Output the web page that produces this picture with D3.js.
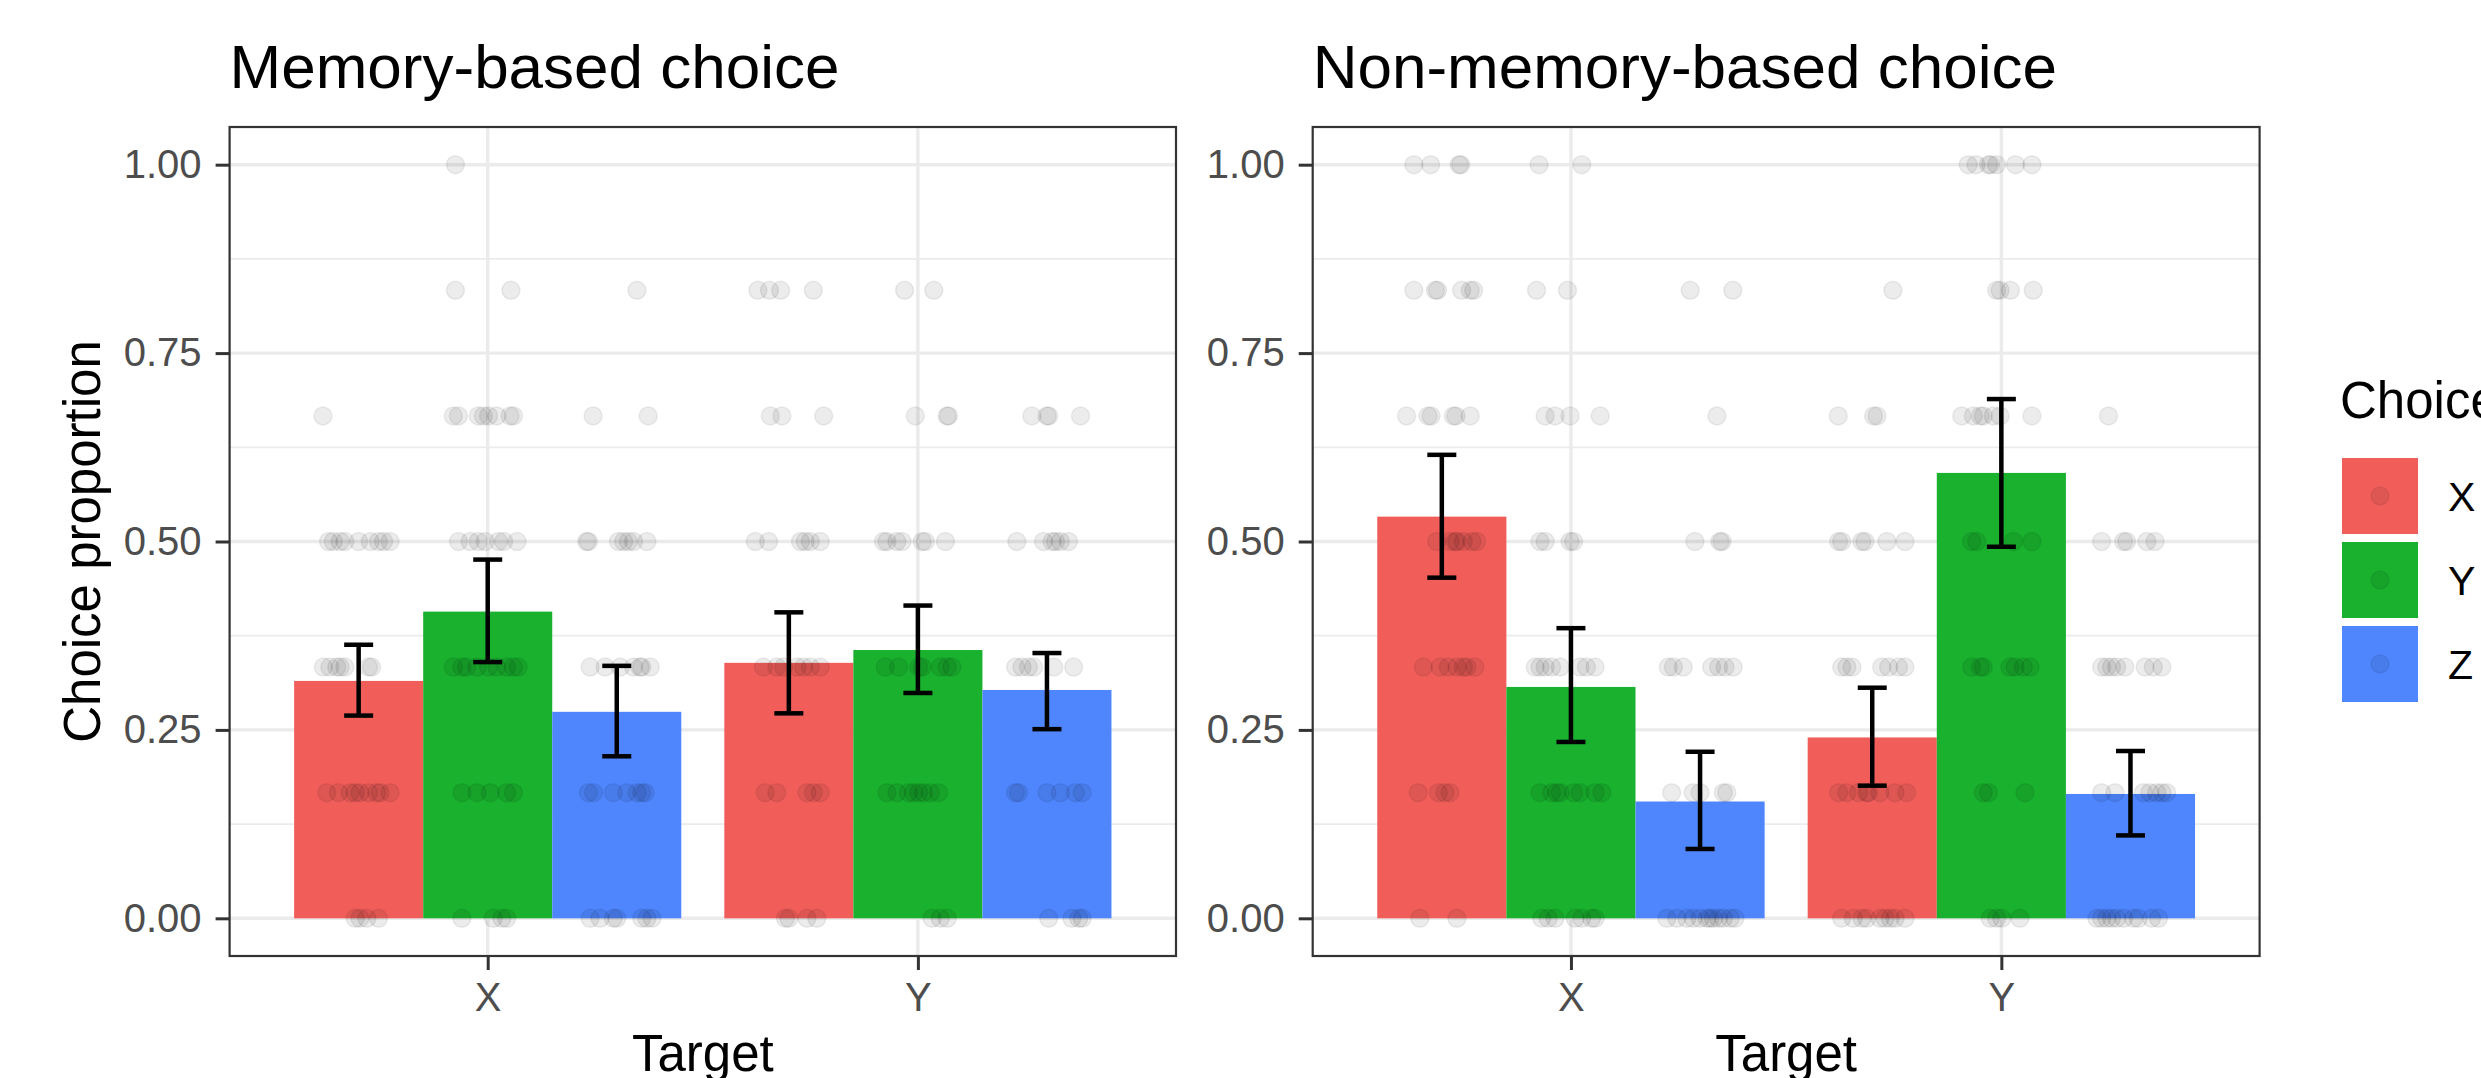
<!DOCTYPE html>
<meta charset="utf-8">
<style>
  body { margin: 0; background: #fff; }
  text { font-family: "Liberation Sans", Arial, sans-serif; }
</style>
<svg width="2481" height="1078"></svg>
<script src="https://d3js.org/d3.v7.min.js"></script>
<script>

// ---- data ----
var targets = ["X", "Y"];
var choices = ["X", "Y", "Z"];
var colors = ["#F15E5A", "#19B12E", "#4F86FE"];

// rows = target, cols = choice
var memMean = [[0.315, 0.407, 0.274], [0.339, 0.356, 0.303]];
var memLow  = [[0.269, 0.340, 0.215], [0.272, 0.299, 0.251]];
var memHigh = [[0.363, 0.476, 0.335], [0.406, 0.415, 0.352]];
var nonMean = [[0.533, 0.307, 0.155], [0.240, 0.591, 0.165]];
var nonLow  = [[0.452, 0.234, 0.092], [0.176, 0.493, 0.110]];
var nonHigh = [[0.615, 0.385, 0.221], [0.306, 0.689, 0.222]];

// participant points: [sixths chosen, horizontal jitter in category units]
var memXX = [[4,-0.083],[3,-0.070],[3,-0.059],[3,-0.043],[3,-0.032],[3,0],[3,0.027],[3,0.046],[3,0.058],[3,0.073],
  [2,-0.082],[2,-0.067],[2,-0.051],[2,-0.043],[2,-0.032],[2,0.023],[2,0.030],
  [1,-0.074],[1,-0.047],[1,-0.020],[1,-0.008],[1,0.003],[1,0.023],[1,0.042],[1,0.050],[1,0.073],
  [0,-0.008],[0,0.003],[0,0.019],[0,0.046]];
var memXY = [[6,-0.075],[5,-0.075],[5,0.054],
  [4,-0.080],[4,-0.068],[4,-0.022],[4,-0.010],[4,0.002],[4,0.021],[4,0.052],[4,0.060],
  [3,-0.068],[3,-0.041],[3,-0.022],[3,-0.006],[3,0.025],[3,0.037],[3,0.068],
  [2,-0.080],[2,-0.060],[2,-0.049],[2,-0.025],[2,0.002],[2,0.021],[2,0.044],[2,0.060],[2,0.071],
  [1,-0.060],[1,-0.025],[1,0.006],[1,0.044],[1,0.060],
  [0,-0.060],[0,0.013],[0,0.033],[0,0.044]];
var memXZ = [[5,0.047],[4,-0.055],[4,0.073],
  [3,-0.070],[3,-0.066],[3,0.004],[3,0.016],[3,0.027],[3,0.039],[3,0.070],
  [2,-0.062],[2,-0.027],[2,0.008],[2,0.039],[2,0.054],[2,0.058],[2,0.078],
  [1,-0.066],[1,-0.054],[1,-0.008],[1,0.023],[1,0.047],[1,0.058],[1,0.066],
  [0,-0.062],[0,-0.039],[0,-0.008],[0,0],[0,0.058],[0,0.070],[0,0.082]];
var memYX = [[5,-0.072],[5,-0.045],[5,-0.019],[5,0.057],
  [4,-0.043],[4,-0.016],[4,0.081],
  [3,-0.078],[3,-0.047],[3,0.027],[3,0.038],[3,0.050],[3,0.073],
  [2,-0.059],[2,-0.028],[2,-0.012],[2,0.019],[2,0.034],[2,0.050],[2,0.073],
  [1,-0.055],[1,-0.028],[1,0.042],[1,0.057],[1,0.073],
  [0,-0.008],[0,0],[0,0.042],[0,0.065]];
var memYY = [[5,-0.031],[5,0.037],
  [4,-0.006],[4,0.068],[4,0.071],
  [3,-0.080],[3,-0.072],[3,-0.049],[3,-0.037],[3,0.010],[3,0.017],[3,0.064],
  [2,-0.076],[2,-0.045],[2,0.002],[2,0.010],[2,0.052],[2,0.068],[2,0.079],
  [1,-0.072],[1,-0.049],[1,-0.022],[1,-0.010],[1,0.002],[1,0.013],[1,0.029],[1,0.048],
  [0,0.033],[0,0.052],[0,0.068]];
var memYZ = [[4,-0.035],[4,0],[4,0.004],[4,0.078],
  [3,-0.070],[3,-0.008],[3,0.012],[3,0.020],[3,0.031],[3,0.050],
  [2,-0.073],[2,-0.058],[2,-0.043],[2,-0.031],[2,0.016],[2,0.062],
  [1,-0.073],[1,-0.066],[1,0],[1,0.031],[1,0.066],[1,0.082],
  [0,0.004],[0,0.058],[0,0.074],[0,0.082]];
var nonXX = [[6,-0.065],[6,-0.026],[6,0.040],[6,0.044],
  [5,-0.065],[5,-0.015],[5,-0.010],[5,0.046],[5,0.066],[5,0.074],
  [4,-0.082],[4,-0.032],[4,-0.025],[4,0.027],[4,0.033],[4,0.066],
  [3,-0.012],[3,0.019],[3,0.031],[3,0.035],[3,0.050],[3,0.070],[3,0.081],
  [2,-0.043],[2,-0.004],[2,0.015],[2,0.035],[2,0.050],[2,0.058],[2,0.077],
  [1,-0.055],[1,-0.008],[1,0.007],[1,0.019],
  [0,-0.051],[0,0.035]];
var nonXY = [[6,-0.074],[6,0.025],[5,-0.080],[5,-0.008],
  [4,-0.060],[4,-0.037],[4,-0.002],[4,0.068],
  [3,-0.072],[3,-0.060],[3,-0.002],[3,0.006],
  [2,-0.083],[2,-0.072],[2,-0.060],[2,-0.045],[2,-0.025],[2,0.021],[2,0.036],[2,0.056],
  [1,-0.072],[1,-0.045],[1,-0.033],[1,-0.025],[1,0.006],[1,0.021],[1,0.056],[1,0.072],
  [0,-0.068],[0,-0.053],[0,-0.037],[0,0.010],[0,0.025],[0,0.048],[0,0.056]];
var nonXZ = [[5,-0.023],[5,0.076],[4,0.039],
  [3,-0.012],[3,0.046],[3,0.051],
  [2,-0.074],[2,-0.062],[2,-0.039],[2,0.027],[2,0.043],[2,0.058],[2,0.077],
  [1,-0.066],[1,-0.016],[1,0],[1,0.054],[1,0.062],
  [0,-0.077],[0,-0.054],[0,-0.031],[0,-0.016],[0,0],[0,0.016],[0,0.023],[0,0.031],[0,0.043],[0,0.054],[0,0.070],[0,0.081]];
var nonYX = [[5,0.048],
  [4,-0.079],[4,0.003],[4,0.011],
  [3,-0.078],[3,-0.071],[3,-0.024],[3,-0.017],[3,0.034],[3,0.076],
  [2,-0.071],[2,-0.059],[2,-0.047],[2,0.022],[2,0.038],[2,0.061],[2,0.076],
  [1,-0.078],[1,-0.059],[1,-0.032],[1,-0.013],[1,-0.009],[1,0.018],[1,0.053],[1,0.080],
  [0,-0.071],[0,-0.044],[0,-0.024],[0,-0.013],[0,0.018],[0,0.030],[0,0.042],[0,0.053],[0,0.076]];
var nonYY = [[6,-0.077],[6,-0.059],[6,-0.030],[6,-0.025],[6,-0.011],[6,0.033],[6,0.071],
  [5,-0.011],[5,-0.003],[5,0.021],[5,0.074],
  [4,-0.092],[4,-0.065],[4,-0.049],[4,-0.042],[4,-0.019],[4,-0.003],[4,0.071],
  [3,-0.069],[3,-0.057],[3,0.028],[3,0.071],
  [2,-0.069],[2,-0.049],[2,-0.042],[2,0.020],[2,0.032],[2,0.051],[2,0.067],
  [1,-0.042],[1,-0.030],[1,0.055],
  [0,-0.026],[0,-0.011],[0,0.001],[0,0.043]];
var nonYZ = [[4,-0.051],
  [3,-0.067],[3,-0.016],[3,-0.009],[3,0.038],[3,0.057],
  [2,-0.067],[2,-0.055],[2,-0.044],[2,-0.032],[2,-0.013],[2,0.034],[2,0.053],[2,0.073],
  [1,-0.067],[1,-0.036],[1,0.030],[1,0.045],[1,0.061],[1,0.073],[1,0.084],
  [0,-0.078],[0,-0.067],[0,-0.055],[0,-0.044],[0,-0.032],[0,-0.016],[0,0.007],[0,0.018],[0,0.049],[0,0.065]];

var yTicks = [0, 0.25, 0.5, 0.75, 1];
var yMinor = [0.125, 0.375, 0.625, 0.875];

// ---- layout ----
var svg = d3.select("svg");
var plotTop = 127, plotBottom = 956;

var panels = [
  {title: "Memory-based choice", left: 229.6, right: 1176, mean: memMean, low: memLow, high: memHigh,
   pts: [[memXX, memXY, memXZ], [memYX, memYY, memYZ]]},
  {title: "Non-memory-based choice", left: 1312.7, right: 2259.6, mean: nonMean, low: nonLow, high: nonHigh,
   pts: [[nonXX, nonXY, nonXZ], [nonYX, nonYY, nonYZ]]}
];

var y = d3.scaleLinear().domain([-0.05, 1.05]).range([plotBottom, plotTop]);

panels.forEach(function(p) {
  var x = d3.scalePoint().domain(targets).range([p.left, p.right]).padding(0.6);
  var step = x.step();
  var xc = d3.scaleBand().domain(choices).range([-0.45 * step, 0.45 * step]);
  var bw = xc.bandwidth();

  var g = svg.append("g");

  // grid
  g.selectAll(".minor").data(yMinor).enter().append("line")
      .attr("x1", p.left).attr("x2", p.right)
      .attr("y1", function(d) { return y(d); }).attr("y2", function(d) { return y(d); })
      .attr("stroke", "#EBEBEB").attr("stroke-width", 1.7);
  g.selectAll(".major").data(yTicks).enter().append("line")
      .attr("x1", p.left).attr("x2", p.right)
      .attr("y1", function(d) { return y(d); }).attr("y2", function(d) { return y(d); })
      .attr("stroke", "#EBEBEB").attr("stroke-width", 3.4);
  g.selectAll(".vgrid").data(targets).enter().append("line")
      .attr("x1", function(d) { return x(d); }).attr("x2", function(d) { return x(d); })
      .attr("y1", plotTop).attr("y2", plotBottom)
      .attr("stroke", "#EBEBEB").attr("stroke-width", 3.4);

  // bars
  targets.forEach(function(t, ti) {
    choices.forEach(function(c, ci) {
      g.append("rect")
          .attr("x", x(t) + xc(c))
          .attr("width", bw)
          .attr("y", y(p.mean[ti][ci]))
          .attr("height", y(0) - y(p.mean[ti][ci]))
          .attr("fill", colors[ci]);
    });
  });

  // points
  targets.forEach(function(t, ti) {
    choices.forEach(function(c, ci) {
      var cx = x(t) + xc(c) + bw / 2;
      g.selectAll(null).data(p.pts[ti][ci]).enter().append("circle")
          .attr("cx", function(d) { return cx + d[1] * step; })
          .attr("cy", function(d) { return y(d[0] / 6); })
          .attr("r", 9)
          .attr("fill", "#000").attr("fill-opacity", 0.075)
          .attr("stroke", "#000").attr("stroke-opacity", 0.07).attr("stroke-width", 1.5);
    });
  });

  // error bars
  targets.forEach(function(t, ti) {
    choices.forEach(function(c, ci) {
      var cx = x(t) + xc(c) + bw / 2;
      var lo = y(p.low[ti][ci]), hi = y(p.high[ti][ci]);
      var eb = g.append("g").attr("stroke", "#000").attr("stroke-width", 4.5);
      eb.append("line").attr("x1", cx).attr("x2", cx).attr("y1", hi).attr("y2", lo);
      eb.append("line").attr("x1", cx - 14.5).attr("x2", cx + 14.5).attr("y1", hi).attr("y2", hi);
      eb.append("line").attr("x1", cx - 14.5).attr("x2", cx + 14.5).attr("y1", lo).attr("y2", lo);
    });
  });

  // border
  g.append("rect")
      .attr("x", p.left).attr("y", plotTop)
      .attr("width", p.right - p.left).attr("height", plotBottom - plotTop)
      .attr("fill", "none").attr("stroke", "#333").attr("stroke-width", 2.2);

  // axes
  var ya = svg.append("g").attr("transform", "translate(" + p.left + ",0)")
      .call(d3.axisLeft(y).tickValues(yTicks).tickFormat(d3.format(".2f")).tickSize(14).tickPadding(14));
  var xa = svg.append("g").attr("transform", "translate(0," + plotBottom + ")")
      .call(d3.axisBottom(x).tickSize(14).tickPadding(13));
  [ya, xa].forEach(function(a) {
    a.select(".domain").remove();
    a.selectAll(".tick line").attr("stroke", "#333").attr("stroke-width", 3);
    a.selectAll(".tick text").attr("fill", "#4D4D4D").style("font-size", "40px")
        .style("font-family", "'Liberation Sans', Arial, sans-serif");
  });

  // titles
  svg.append("text").attr("x", p.left).attr("y", 88)
      .style("font-size", "62px").attr("fill", "#000").text(p.title);
  svg.append("text").attr("x", (p.left + p.right) / 2).attr("y", 1071)
      .attr("text-anchor", "middle").style("font-size", "51px").attr("fill", "#000").text("Target");
});

// y axis title
svg.append("text")
    .attr("transform", "translate(100," + (plotTop + plotBottom) / 2 + ") rotate(-90)")
    .attr("text-anchor", "middle").style("font-size", "51px").attr("fill", "#000")
    .text("Choice proportion");

// legend
var lg = svg.append("g");
lg.append("text").attr("x", 2340).attr("y", 418).style("font-size", "51px").text("Choice");
choices.forEach(function(c, i) {
  var ky = 458 + i * 84;
  lg.append("rect").attr("x", 2342).attr("y", ky).attr("width", 76).attr("height", 76).attr("fill", colors[i]);
  lg.append("circle").attr("cx", 2380).attr("cy", ky + 38).attr("r", 9)
      .attr("fill", "#000").attr("fill-opacity", 0.075)
      .attr("stroke", "#000").attr("stroke-opacity", 0.07).attr("stroke-width", 1.5);
  lg.append("text").attr("x", 2448).attr("y", ky + 38 + 15).style("font-size", "41px").text(c);
});

</script>
